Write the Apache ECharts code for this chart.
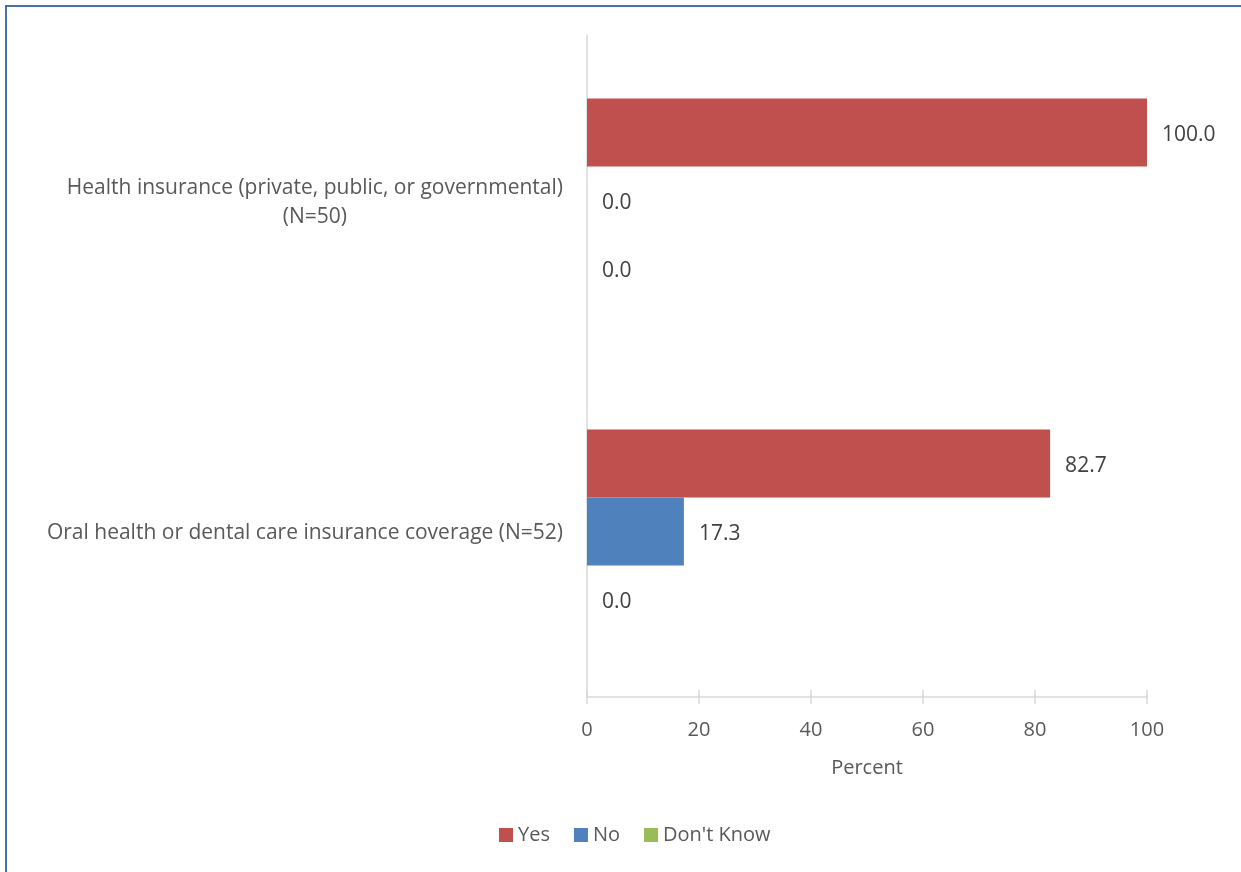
<!DOCTYPE html>
<html>
<head>
<meta charset="utf-8">
<script src="https://cdn.jsdelivr.net/npm/echarts@6/dist/echarts.min.js"></script>
<style>
  html, body { margin: 0; padding: 0; background: #fff; overflow: hidden; }
  #frame {
    position: absolute; left: 5px; top: 5px;
    width: 1300px; height: 900px;
    border: 2px solid #4770a8;
  }
  #chart { position: absolute; left: 0; top: 0; width: 1241px; height: 872px; }
</style>
</head>
<body>
<div id="frame"></div>
<div id="chart"></div>
<script>
// categories top to bottom
const categories = [
    'Health insurance (private, public, or governmental)\n(N=50)',
    'Oral health or dental care insurance coverage (N=52)'
];
const seriesNames = ['Yes', 'No', "Don't Know"];
const yesValues = [100.0, 82.7];
const noValues = [0.0, 17.3];
const dontKnowValues = [0.0, 0.0];
const seriesColors = ['#C0504D', '#4F81BD', '#9BBB59'];

const FONT = 'Open Sans';
const TEXT = '#595959';

const chart = echarts.init(document.getElementById('chart'), null, { renderer: 'canvas' });

function catLabel(value) {
    // center each line inside the block, block is right-aligned at the axis
    return value.split('\n').map(l => `{c|${l}}`).join('\n');
}

const allValues = [yesValues, noValues, dontKnowValues];

const option = {
    backgroundColor: 'transparent',
    animation: false,
    legend: {
        bottom: 22,
        left: 494,
        itemWidth: 14,
        itemHeight: 14,
        itemGap: 24,
        icon: 'rect',
        data: seriesNames,
        textStyle: { fontFamily: FONT, fontSize: 20, color: TEXT }
    },
    grid: {
        left: 587,
        right: 94,
        top: 35,
        bottom: 175
    },
    xAxis: [{
        type: 'value',
        min: 0,
        max: 100,
        interval: 20,
        name: 'Percent',
        nameLocation: 'middle',
        nameGap: 61,
        nameTextStyle: { fontFamily: FONT, fontSize: 20, color: TEXT },
        axisLine: { show: true, lineStyle: { color: '#D9D9D9', width: 1.5 } },
        axisTick: { show: true, length: 7, lineStyle: { color: '#D9D9D9', width: 1.5 } },
        axisLabel: { fontFamily: FONT, fontSize: 20, color: TEXT, margin: 23 },
        splitLine: { show: false }
    }, {
        // second copy only for the inward half of the cross ticks
        type: 'value',
        position: 'bottom',
        min: 0,
        max: 100,
        interval: 20,
        axisLine: { show: false },
        axisTick: { show: true, inside: true, length: 7, lineStyle: { color: '#D9D9D9', width: 1.5 } },
        axisLabel: { show: false },
        splitLine: { show: false }
    }],
    yAxis: {
        type: 'category',
        inverse: true,
        data: categories,
        axisLine: { show: true, lineStyle: { color: '#D9D9D9', width: 1.5 } },
        axisTick: { show: false },
        axisLabel: {
            margin: 24,
            fontFamily: FONT,
            fontSize: 21,
            color: TEXT,
            formatter: catLabel,
            padding: [4, 0, 0, 0],
            rich: {
                c: { align: 'center', fontFamily: FONT, fontSize: 21, color: TEXT, lineHeight: 29 }
            }
        }
    },
    series: seriesNames.map((name, i) => ({
        name: name,
        type: 'bar',
        barWidth: 68,
        barGap: '0%',
        data: allValues[i],
        itemStyle: { color: seriesColors[i] },
        label: {
            show: true,
            position: 'right',
            distance: 15,
            offset: [0, 3],
            fontFamily: FONT,
            fontSize: 21,
            color: '#404040',
            formatter: p => p.value.toFixed(1)
        }
    }))
};

chart.setOption(option);
</script>
</body>
</html>
